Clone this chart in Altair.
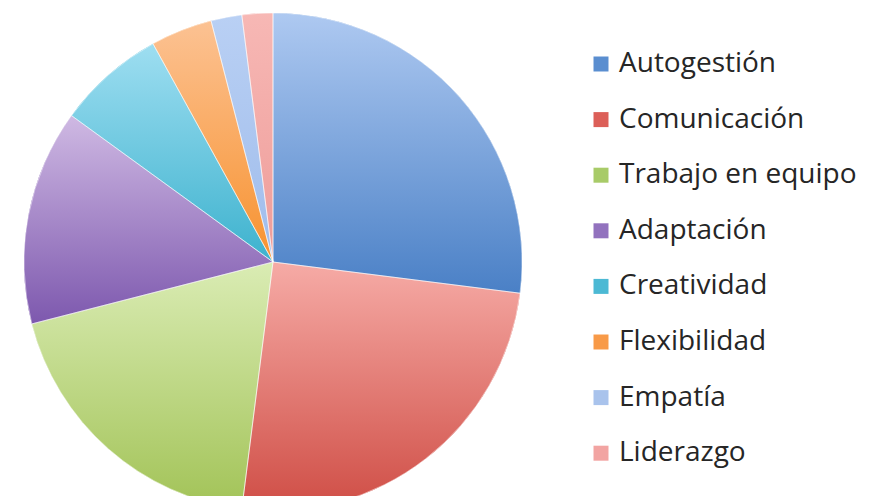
import altair as alt
import pandas as pd

cats = ["Autogestión", "Comunicación", "Trabajo en equipo", "Adaptación",
        "Creatividad", "Flexibilidad", "Empatía", "Liderazgo"]
vals = [27, 25, 19, 14, 7, 4, 2, 2]
flat = ["#5A8ED0", "#DC5F58", "#A8CB68", "#9272BE", "#4CB9D4", "#F89A48", "#A9C3EC", "#F2A4A2"]
tops = ["#AEC9F1", "#F6ABA6", "#DAECB4", "#CFB9E3", "#9EDEF1", "#FCC293", "#B9D0F4", "#F7B8B5"]
bots = ["#4A80C6", "#CF4D45", "#A2C357", "#7D58AE", "#3DB2CE", "#F7922F", "#9FBCEB", "#EE9C99"]

df = pd.DataFrame({"cat": cats, "value": vals, "idx": list(range(len(cats)))})

R = 249
CX, CY = 265, 254

base = alt.Chart(df).encode(
    theta=alt.Theta("value:Q", stack=True),
    order=alt.Order("idx:Q"),
    x=alt.value(CX),
    y=alt.value(CY),
)

pie = base.mark_arc(outerRadius=R).encode(
    color=alt.Color(
        "cat:N",
        scale=alt.Scale(domain=cats, range=flat),
        legend=alt.Legend(
            title=None,
            orient="none",
            legendX=579,
            legendY=42,
            symbolType="square",
            symbolSize=225,
            symbolStrokeWidth=0,
            labelFont="Open Sans",
            labelFontSize=28,
            labelColor="#262626",
            rowPadding=27.6,
            labelOffset=4,
            labelLimit=400,
        ),
    )
)

layers = [pie]
for i, c in enumerate(cats):
    grad = {
        "gradient": "linear",
        "x1": 0, "y1": 0, "x2": 0, "y2": 1,
        "stops": [
            {"offset": 0, "color": tops[i]},
            {"offset": 1, "color": bots[i]},
        ],
    }
    layers.append(
        base.mark_arc(outerRadius=R).encode(
            color=alt.condition(alt.datum.cat == c, alt.value(grad), alt.value("transparent"))
        )
    )

edges = base.mark_arc(outerRadius=R, fillOpacity=0, stroke="#ffffff", strokeWidth=1, strokeOpacity=0.5).encode(
    detail="cat:N"
)
layers.append(edges)

chart = alt.layer(*layers).properties(
    width=530, height=488, padding=0
).configure_view(stroke=None)

chart.save("out.html", embed_options={"renderer": "svg", "actions": False})
